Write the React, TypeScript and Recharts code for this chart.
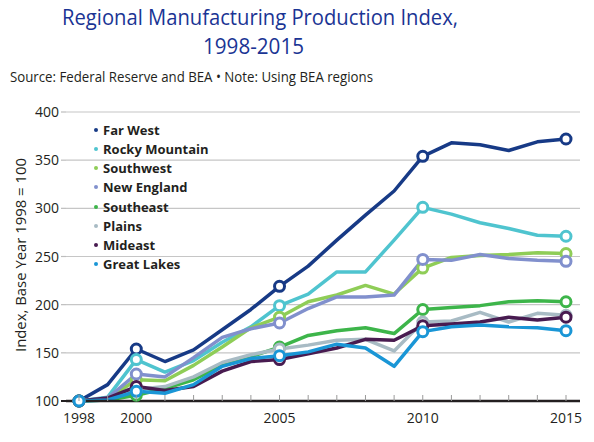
import React from "react";
import { CartesianGrid, Legend, Line, LineChart, XAxis, YAxis } from "recharts";

// Index values, base year 1998 = 100
const years = [
  1998, 1999, 2000, 2001, 2002, 2003, 2004, 2005, 2006, 2007, 2008, 2009,
  2010, 2011, 2012, 2013, 2014, 2015,
];
const farWest = [100, 117, 154, 141, 153, 174, 195, 219, 240, 267, 293, 318, 354, 368, 366, 360, 369, 372];
const rockyMountain = [100, 104, 143, 130, 142, 161, 177, 199, 211, 234, 234, 267, 301, 294, 285, 279, 272, 271];
const southwest = [100, 102, 122, 121, 137, 156, 176, 187, 203, 210, 220, 211, 238, 249, 251, 252, 254, 253];
const newEngland = [100, 103, 128, 125, 145, 166, 175, 181, 196, 208, 208, 210, 247, 246, 252, 248, 246, 245];
const southeast = [100, 101, 106, 113, 122, 137, 146, 156, 168, 173, 176, 170, 195, 197, 199, 203, 204, 203];
const plains = [100, 102, 112, 115, 125, 140, 148, 154, 158, 163, 164, 152, 182, 183, 192, 182, 191, 189];
const mideast = [100, 103, 115, 111, 115, 131, 141, 143, 149, 155, 164, 163, 178, 180, 182, 187, 184, 187];
const greatLakes = [100, 101, 110, 108, 117, 136, 144, 147, 151, 159, 155, 136, 172, 177, 179, 177, 176, 173];

const labeledYears = [1998, 2000, 2005, 2010, 2015];
const yTicks = [100, 150, 200, 250, 300, 350, 400];

const series = [
  { key: "farWest", name: "Far West", color: "#173a86", values: farWest },
  { key: "rockyMountain", name: "Rocky Mountain", color: "#4fc4cf", values: rockyMountain },
  { key: "southwest", name: "Southwest", color: "#8fcd57", values: southwest },
  { key: "newEngland", name: "New England", color: "#8190cd", values: newEngland },
  { key: "southeast", name: "Southeast", color: "#3db54a", values: southeast },
  { key: "plains", name: "Plains", color: "#a8bbc4", values: plains },
  { key: "mideast", name: "Mideast", color: "#481b50", values: mideast },
  { key: "greatLakes", name: "Great Lakes", color: "#1a96d6", values: greatLakes },
];

const data = years.map((year, i) => {
  const row: Record<string, number> = { year };
  series.forEach((s) => {
    row[s.key] = s.values[i];
  });
  return row;
});

const FONT = "'Open Sans', 'Noto Sans', sans-serif";
const TEXT = "#231f20";

// year ticks point up into the plot; only some years get a label
function YearTick(props: any) {
  const { x, y, payload } = props;
  const year = payload.value;
  return (
    <g>
      <line x1={x} x2={x} y1={y - 6} y2={y} stroke="#9a9a9a" strokeWidth={1} />
      {labeledYears.includes(year) && (
        <text x={x} y={y + 22} textAnchor="middle" fontSize={14} fill={TEXT} fontFamily={FONT}>
          {year}
        </text>
      )}
    </g>
  );
}

function IndexTick(props: any) {
  const { x, y, payload } = props;
  const base = payload.value === 100;
  return (
    <g>
      <line x1={x - 5} x2={x} y1={y} y2={y} stroke={base ? TEXT : "#bdbdbd"} strokeWidth={base ? 2 : 1.2} />
      <text x={x - 7} y={y} dy={5} textAnchor="end" fontSize={14} fill={TEXT} fontFamily={FONT}>
        {payload.value}
      </text>
    </g>
  );
}

// open circles on the labeled years only
function markerDot(color: string) {
  return (props: any) => {
    const { cx, cy, payload } = props;
    if (!labeledYears.includes(payload.year)) return <g key={payload.year} />;
    return (
      <circle key={payload.year} cx={cx} cy={cy} r={5} fill="#fff" stroke={color} strokeWidth={3} />
    );
  };
}

function RegionLegend() {
  return (
    <div style={{ fontFamily: FONT, fontSize: 13, fontWeight: 700, color: TEXT }}>
      {series.map((s) => (
        <div key={s.key} style={{ display: "flex", alignItems: "center", height: 19.15 }}>
          <span
            style={{
              width: 4,
              height: 4,
              borderRadius: 2,
              background: s.color,
              marginRight: 5,
            }}
          />
          {s.name}
        </div>
      ))}
    </div>
  );
}

export default function App() {
  return (
    <div style={{ position: "absolute", left: 0, top: 0, width: 594, height: 442, background: "#fff" }}>
      <LineChart width={594} height={442} data={data} margin={{ top: 112, right: 14, bottom: 11, left: 10 }}>
        <CartesianGrid horizontal vertical={false} stroke="#c6c6c6" strokeWidth={1.2} />
        <XAxis
          dataKey="year"
          type="number"
          domain={[1998, 2015]}
          ticks={years}
          interval={0}
          padding={{ left: 13, right: 14 }}
          height={30}
          tickSize={0}
          tickMargin={0}
          tickLine={false}
          axisLine={{ stroke: TEXT, strokeWidth: 2.5 }}
          tick={<YearTick />}
        />
        <YAxis
          type="number"
          domain={[100, 400]}
          ticks={yTicks}
          interval={0}
          width={56}
          tickSize={0}
          tickMargin={0}
          tickLine={false}
          axisLine={false}
          tick={<IndexTick />}
        />
        <Legend
          layout="vertical"
          align="center"
          verticalAlign="middle"
          content={<RegionLegend />}
          wrapperStyle={{ position: "absolute", left: 94, top: 120.5, width: "auto", height: "auto" }}
        />
        {series.map((s) => (
          <Line
            key={s.key}
            dataKey={s.key}
            name={s.name}
            stroke={s.color}
            strokeWidth={3.5}
            strokeLinejoin="round"
            dot={markerDot(s.color)}
            activeDot={false}
            isAnimationActive={false}
          />
        ))}
      </LineChart>
      <svg
        width={594}
        height={442}
        style={{ position: "absolute", left: 0, top: 0, pointerEvents: "none" }}
      >
        <text x={260} y={25} textAnchor="middle" fontSize={22} fill="#1a3494" fontFamily={FONT} textLength={396} lengthAdjust="spacingAndGlyphs">
          Regional Manufacturing Production Index,
        </text>
        <text x={253.5} y={53.5} textAnchor="middle" fontSize={22} fill="#1a3494" fontFamily={FONT} textLength={101} lengthAdjust="spacingAndGlyphs">
          1998-2015
        </text>
        <text x={10} y={81.5} fontSize={14} fill={TEXT} fontFamily={FONT} textLength={363} lengthAdjust="spacingAndGlyphs">
          Source: Federal Reserve and BEA • Note: Using BEA regions
        </text>
        <text
          transform="translate(26 255) rotate(-90)"
          textAnchor="middle"
          fontSize={14.5}
          fill={TEXT}
          fontFamily={FONT}
          textLength={194}
          lengthAdjust="spacingAndGlyphs"
        >
          Index, Base Year 1998 = 100
        </text>
      </svg>
    </div>
  );
}
